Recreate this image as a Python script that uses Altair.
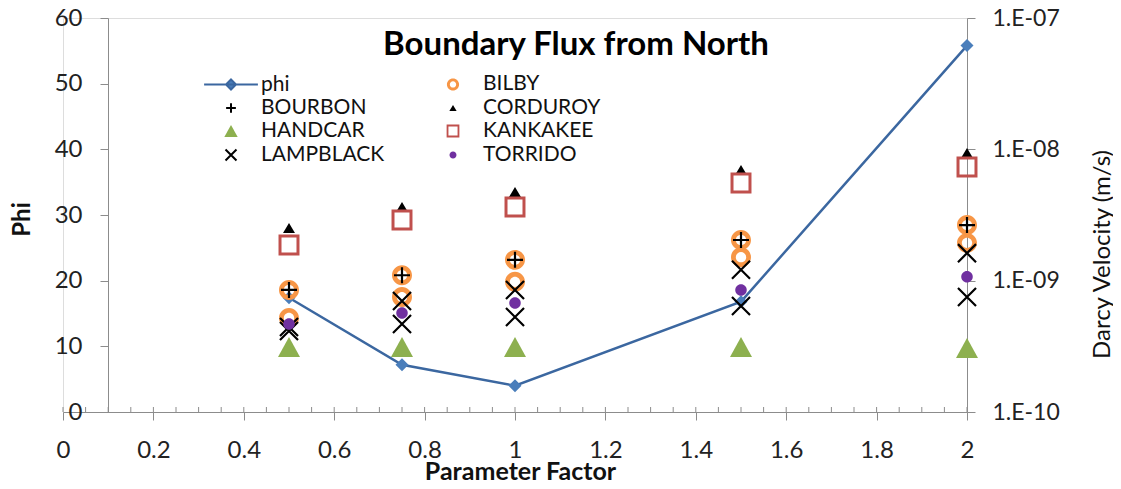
import altair as alt
import pandas as pd

# ---------------- data ----------------
factor = [0.5, 0.75, 1.0, 1.5, 2.0]
phi = [17.4, 7.2, 4.0, 16.8, 55.8]

bilby_hi = [8.5e-10, 1.10e-9, 1.44e-9, 2.04e-9, 2.65e-9]
bilby_lo = [5.2e-10, 7.5e-10, 9.8e-10, 1.51e-9, 1.94e-9]
bourbon = [8.5e-10, 1.10e-9, 1.44e-9, 2.04e-9, 2.65e-9]
corduroy = [2.52e-9, 3.64e-9, 4.73e-9, 6.96e-9, 9.38e-9]
handcar = [3.13e-10, 3.13e-10, 3.13e-10, 3.13e-10, 3.07e-10]
kankakee = [1.87e-9, 2.90e-9, 3.64e-9, 5.54e-9, 7.34e-9]
lampblack_hi = [4.44e-10, 7.0e-10, 8.49e-10, 1.21e-9, 1.62e-9]
lampblack_lo = [4.14e-10, 4.68e-10, 5.29e-10, 6.41e-10, 7.51e-10]
torrido = [4.68e-10, 5.67e-10, 6.76e-10, 8.49e-10, 1.07e-9]

x_ticks = [0, 0.2, 0.4, 0.6, 0.8, 1.0, 1.2, 1.4, 1.6, 1.8, 2.0]
x_minor = [i * 0.05 for i in range(41)]
phi_ticks = [0, 10, 20, 30, 40, 50, 60]
vel_ticks = [1e-10, 1e-9, 1e-8, 1e-7]

series_names = ["phi", "BILBY", "BOURBON", "CORDUROY", "HANDCAR",
                "KANKAKEE", "LAMPBLACK", "TORRIDO"]

# ---------------- styles ----------------
fill_colors = ["#4A7EBB", "#F79646", "transparent", "#000000", "#8DB04F",
               "#C0504D", "transparent", "#7030A0"]
stroke_colors = ["#3B67A0", "transparent", "#000000", "transparent",
                 "transparent", "transparent", "#000000", "transparent"]
shapes = [
    "M-2.69,0L2.69,0M0,-0.5L0.5,0L0,0.5L-0.5,0Z",
    "M-0.608,0A0.608,0.608 0 1,0 0.608,0A0.608,0.608 0 1,0 -0.608,0Z"
    "M-0.316,0A0.316,0.316 0 1,1 0.316,0A0.316,0.316 0 1,1 -0.316,0Z",
    "M-0.487,0L0.487,0M0,-0.487L0,0.487",
    "M0,-0.308L0.364,0.308L-0.364,0.308Z",
    "M0,-0.608L0.669,0.608L-0.669,0.608Z",
    "M-0.638,-0.638L0.638,-0.638L0.638,0.638L-0.638,0.638Z"
    "M-0.456,-0.456L-0.456,0.456L0.456,0.456L0.456,-0.456Z",
    "M-0.549,-0.549L0.549,0.549M-0.549,0.549L0.549,-0.549",
    "M-0.35,0A0.35,0.35 0 1,0 0.35,0A0.35,0.35 0 1,0 -0.35,0Z",
]

FONT = "Lato"

# ---------------- tables ----------------
phi_df = pd.DataFrame({"factor": factor, "phi": phi})

draw_order = [
    ("BILBY", bilby_hi), ("BILBY", bilby_lo), ("BOURBON", bourbon),
    ("CORDUROY", corduroy), ("HANDCAR", handcar), ("KANKAKEE", kankakee),
    ("LAMPBLACK", lampblack_hi), ("LAMPBLACK", lampblack_lo),
    ("TORRIDO", torrido),
]
rows = []
for name, vals in draw_order:
    for f, v in zip(factor, vals):
        rows.append({"factor": f, "vel": v, "series": name})
vel_df = pd.DataFrame(rows)
minor_df = pd.DataFrame({"t": x_minor})

# ---------------- encodings ----------------
x_enc = alt.X(
    "factor:Q",
    scale=alt.Scale(domain=[0, 2], nice=False, zero=False),
    axis=alt.Axis(
        values=x_ticks, format="~g", title="Parameter Factor",
        tickSize=8, labelPadding=18, labelFont=FONT, labelFontSize=24,
        labelColor="#222222", labelFlush=False, titleFont=FONT, titleFontSize=25,
        titleFontWeight="bold", titleColor="#111111",
        titleX=457, titleY=59, titleBaseline="middle", titleAlign="center",
        domainColor="#8C8C8C", tickColor="#8C8C8C", grid=False,
    ),
)

left_axis = alt.Axis(
    values=phi_ticks, format="d", title="Phi", offset=-45,
    tickSize=8, labelPadding=18, labelFont=FONT, labelFontSize=24,
    labelColor="#222222", labelFlush=False, titleFont=FONT, titleFontSize=24,
    titleFontWeight="bold", titleColor="#111111", titleAngle=270,
    titleX=-86, titleY=201, titleAlign="center", titleBaseline="middle",
    domainColor="#8C8C8C", tickColor="#8C8C8C", grid=False,
)
left_scale = alt.Scale(domain=[0, 60], nice=False, zero=False)

phi_line = alt.Chart(phi_df).mark_line(color="#3B67A0", strokeWidth=2.5).encode(
    x=x_enc,
    y=alt.Y("phi:Q", scale=left_scale, axis=left_axis),
)
phi_pts = alt.Chart(phi_df).mark_point(
    shape="diamond", size=170, filled=True, color="#4A7EBB", opacity=1
).encode(
    x=x_enc,
    y=alt.Y("phi:Q", scale=left_scale, axis=left_axis),
)
minor_ticks = alt.Chart(minor_df).mark_rule(color="#8C8C8C", strokeWidth=1).encode(
    x=alt.X("t:Q", scale=alt.Scale(domain=[0, 2], nice=False, zero=False)),
    y=alt.YDatum(0, scale=left_scale),
    y2=alt.Y2Datum(0.76),
)
left = alt.layer(phi_line, minor_ticks, phi_pts)

legend = alt.Legend(
    title=None, orient="none", legendX=157, legendY=55, columns=2,
    direction="horizontal",
    symbolSize=400, symbolStrokeWidth=2, labelFont=FONT, labelFontSize=21,
    labelColor="#111111", labelOffset=19, rowPadding=2, columnPadding=57,
    padding=0, symbolOpacity=1, labelLimit=300,
)

vel_pts = alt.Chart(vel_df).mark_point(
    size=1080, opacity=1, strokeWidth=2.2, filled=False
).encode(
    x=alt.X("factor:Q", scale=alt.Scale(domain=[0, 2], nice=False, zero=False)),
    y=alt.Y(
        "vel:Q",
        scale=alt.Scale(type="log", domain=[1e-10, 1e-7], nice=False),
        axis=alt.Axis(
            orient="right", values=vel_ticks,
            labelExpr="'1.E-' + (round(-log(datum.value)/LN10) < 10 ? '0' : '') + round(-log(datum.value)/LN10)",
            title="Darcy Velocity (m/s)", tickSize=8, labelPadding=17,
            labelFont=FONT, labelFontSize=23, labelColor="#222222", labelFlush=False,
            titleFont=FONT, titleFontSize=24, titleFontWeight="normal",
            titleColor="#111111", titleAngle=270, titleX=135, titleY=236,
            titleAlign="center", titleBaseline="middle",
            domainColor="#8C8C8C", tickColor="#8C8C8C", grid=False,
        ),
    ),
    shape=alt.Shape("series:N", scale=alt.Scale(domain=series_names, range=shapes), legend=legend),
    fill=alt.Fill("series:N", scale=alt.Scale(domain=series_names, range=fill_colors), legend=legend),
    stroke=alt.Stroke("series:N", scale=alt.Scale(domain=series_names, range=stroke_colors), legend=legend),
    order=alt.Order("idx:Q"),
).transform_window(idx="row_number()")

chart = alt.layer(left, vel_pts).resolve_scale(y="independent").properties(
    width=904,
    height=394,
    autosize=alt.AutoSizeParams(type="none"),
    padding={"left": 55, "top": 10, "right": 146, "bottom": 69},
    title=alt.TitleParams(
        "Boundary Flux from North", font=FONT, fontSize=33, fontWeight="bold",
        color="#000000", anchor="middle", frame="group", dx=61, dy=82,
        offset=0, baseline="alphabetic",
    ),
).configure_view(stroke=None).configure(background="white")

chart.save("out.html", embed_options={"renderer": "svg", "actions": False})
